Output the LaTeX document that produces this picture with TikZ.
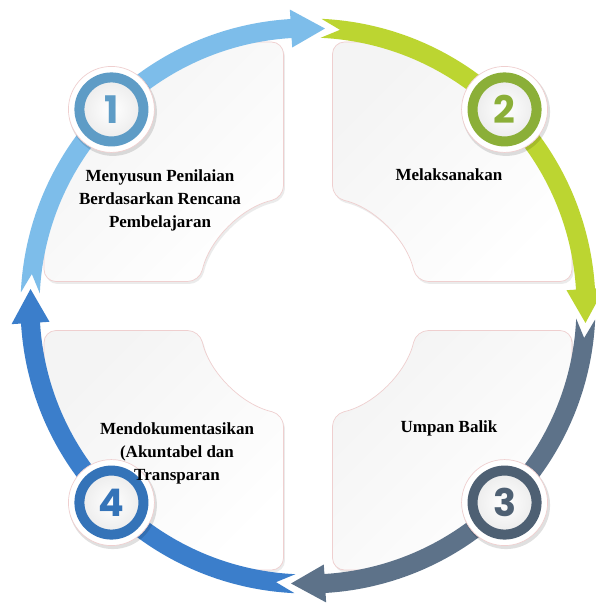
\documentclass[tikz,border=0pt]{standalone}
\usepackage{fontspec}
\setmainfont{Liberation Serif}
\newfontfamily\digitfont{Poppins}
\definecolor{cA}{HTML}{7DBDEA}
\definecolor{cAd}{HTML}{5E9CC6}
\definecolor{cB}{HTML}{BCD531}
\definecolor{cBd}{HTML}{8BAF38}
\definecolor{cC}{HTML}{5D7289}
\definecolor{cCd}{HTML}{4E6073}
\definecolor{cD}{HTML}{3B7ECB}
\definecolor{cDd}{HTML}{3473B8}
\definecolor{panelline}{HTML}{EFCFCF}
\tikzset{
  x=1pt, y=1pt,
  label text/.style={font=\bfseries\fontsize{17}{23}\selectfont, align=center, text=black},
  digit/.style={font=\digitfont\bfseries\fontsize{38}{38}\selectfont, inner sep=0pt},
  panel/.style={draw=panelline, line width=0.7pt, top color=gray!9, bottom color=white, shading angle=45, rounded corners=12pt},
  panelshadow/.style={fill=black, opacity=0.08, rounded corners=12pt},
}
\def\PanelPath{(-264,24.5) -- (-264,264) -- (-24.5,264) -- (-24.5,108.3) arc[start angle=102.75, end angle=167.25, radius=111pt] -- cycle}
\newcommand{\PanelQ}[2]{%
  \begin{scope}
    \clip (0,0) circle (281pt);
    \begin{scope}[shift={(1.5,-2.5)}]
      \begin{scope}[xscale=#1, yscale=#2]
        \fill[panelshadow] \PanelPath;
      \end{scope}
    \end{scope}
    \begin{scope}[xscale=#1, yscale=#2]
      \shadedraw[panel] \PanelPath;
    \end{scope}
  \end{scope}}
\newcommand{\RingArrow}[2]{% #1 tip angle, #2 colour
  \pgfmathsetmacro{\pa}{#1+90}
  \pgfmathsetmacro{\tailc}{\pa+0.8}
  \pgfmathsetmacro{\tailv}{\pa-3.1}
  \pgfmathsetmacro{\hb}{#1+7}
  \fill[#2] (\tailc:287.5pt) arc[start angle=\tailc, end angle=\hb, radius=287.5pt]
    -- (\hb:297pt) -- (#1:278pt) -- (\hb:259pt) -- (\hb:268.5pt)
    arc[start angle=\hb, end angle=\tailc, radius=268.5pt] -- (\tailv:278pt) -- cycle;
}
\newcommand{\Badge}[4]{% name, angle, colour, digit
  \fill[black, opacity=0.12] (#2:278pt) ++(1.5,-2.5) circle (44pt);
  \filldraw[fill=white, draw=panelline, line width=0.7pt] (#2:278pt) circle (43pt);
  \shade[inner color=white, outer color=gray!14] (#2:278pt) circle (28pt);
  \draw[#3, line width=10pt] (#2:278pt) circle (32pt);
  \node[digit, text=#3] (#1) at (#2:278pt) {#4};
}
\begin{document}
\begin{tikzpicture}
\fill[white] (-308,-297) rectangle (287,306);
\useasboundingbox (-308,-297) rectangle (287,306);
% panels
\PanelQ{1}{1}
\PanelQ{-1}{1}
\PanelQ{-1}{-1}
\PanelQ{1}{-1}
% ring arrows
\RingArrow{86.5}{cA}
\RingArrow{-3.5}{cB}
\RingArrow{-93.5}{cC}
\RingArrow{-183.5}{cD}
% badges
\Badge{b1}{135}{cAd}{1}
\Badge{b2}{45}{cBd}{2}
\Badge{b3}{-45}{cCd}{3}
\Badge{b4}{-135}{cDd}{4}
% texts
\node[label text] (t1) at (-148,106) {Menyusun Penilaian\\Berdasarkan Rencana\\Pembelajaran};
\node[label text] (t2) at (141,131) {Melaksanakan};
\node[label text] (t3) at (141,-122) {Umpan Balik};
\node[label text] (t4) at (-131,-147) {Mendokumentasikan\\(Akuntabel dan\\Transparan};
\end{tikzpicture}
\end{document}
